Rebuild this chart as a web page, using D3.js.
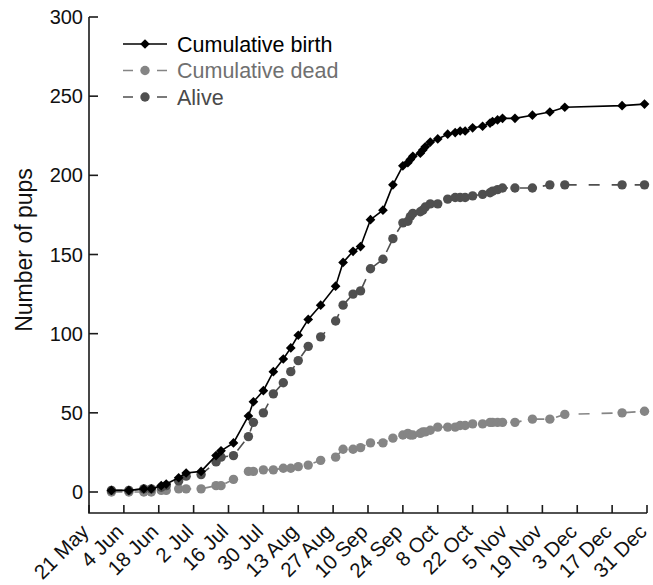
<!DOCTYPE html>
<html>
<head>
<meta charset="utf-8">
<style>
    body { margin: 0; background: white; }
    text { font-family: "Liberation Sans", Arial, sans-serif; }
    .axis_line { stroke: #1a1a1a; stroke-width: 1.6; fill: none; }
</style>
</head>
<body>
<div id="plateau"></div>
<script src="https://cdn.jsdelivr.net/npm/d3@7"></script>
<script>

//////////////////// data ////////////////////
let dates = ['2021-05-30','2021-06-06','2021-06-12','2021-06-15','2021-06-19','2021-06-21','2021-06-26','2021-06-29',
    '2021-07-05','2021-07-11','2021-07-13','2021-07-18','2021-07-24','2021-07-26','2021-07-30','2021-08-03',
    '2021-08-07','2021-08-10','2021-08-13','2021-08-17','2021-08-22','2021-08-28','2021-08-31','2021-09-04',
    '2021-09-07','2021-09-11','2021-09-16','2021-09-20','2021-09-24','2021-09-26','2021-09-27','2021-09-28',
    '2021-10-01','2021-10-02','2021-10-03','2021-10-05','2021-10-08','2021-10-12','2021-10-15','2021-10-17',
    '2021-10-19','2021-10-22','2021-10-26','2021-10-29','2021-10-30','2021-11-01','2021-11-03','2021-11-08',
    '2021-11-15','2021-11-22','2021-11-28','2021-12-21','2021-12-30'];
let birth = [1,1,2,2,4,5,9,12, 13,23,26,31,48,57,64,76, 84,91,99,109,118,130,145,152,
    155,172,178,194,206,208,210,212, 214,216,218,221,223,226,227,228, 228,230,231,233,234,235,236,236,
    238,240,243,244,245];
let dead = [0,0,0,0,1,1,2,2, 2,4,4,8,13,13,14,14, 15,15,16,17,20,22,27,27,
    28,31,31,34,36,37,36,36, 37,38,38,39,41,41,41,42, 42,43,43,44,44,44,44,44,
    46,46,49,50,51];
let alive = [1,1,2,2,3,4,7,10, 11,19,22,23,35,44,50,62, 69,76,83,92,98,108,118,125,
    127,141,147,160,170,171,174,176, 177,178,180,182,182,185,186,186, 186,187,188,189,190,191,192,192,
    192,194,194,194,194];
let y_ticks = [0, 50, 100, 150, 200, 250, 300];
let x_tick_start = '2021-05-21';
let x_tick_end = '2021-12-31';
let legend_labels = ['Cumulative birth', 'Cumulative dead', 'Alive'];

//////////////////// layout ////////////////////
let W = 653, H = 585;
let X0 = 89, X1 = 647;
let Y_TOP = 17, Y_ZERO = 492, Y_AXIS = 513;

let parse = d3.utcParse('%Y-%m-%d');
let x = d3.scaleUtc().domain([parse(x_tick_start), parse(x_tick_end)]).range([X0, X1]);
let y = d3.scaleLinear().domain([0, 300]).range([Y_ZERO, Y_TOP]);

let svg = d3.select('#plateau').append('svg')
    .attr('width', W)
    .attr('height', H);

// axes
svg.append('path').classed('axis_line', true)
    .attr('d', `M ${X0} ${Y_TOP} L ${X0} ${Y_AXIS} L ${X1} ${Y_AXIS}`);

let x_ticks = d3.utcDay.range(parse(x_tick_start), d3.utcDay.offset(parse(x_tick_end), 1), 14);
let fmt = d3.utcFormat('%-d %b');
x_ticks.forEach((t) => {
    let px = x(t);
    svg.append('line').classed('axis_line', true)
        .attr('x1', px).attr('x2', px).attr('y1', Y_AXIS).attr('y2', Y_AXIS - 8);
    svg.append('text')
        .attr('transform', `translate(${px + 1}, ${Y_AXIS + 20}) rotate(-45)`)
        .attr('text-anchor', 'end')
        .attr('font-size', 20.5)
        .attr('fill', '#111')
        .text(fmt(t));
});

y_ticks.forEach((v) => {
    svg.append('line').classed('axis_line', true)
        .attr('x1', X0).attr('x2', X0 + 9).attr('y1', y(v)).attr('y2', y(v));
    svg.append('text')
        .attr('x', X0 - 6)
        .attr('y', y(v))
        .attr('dy', '0.35em')
        .attr('text-anchor', 'end')
        .attr('font-size', 20)
        .attr('fill', '#111')
        .text(v);
});

svg.append('text')
    .attr('transform', `translate(32, 250) rotate(-90)`)
    .attr('text-anchor', 'middle')
    .attr('font-size', 23)
    .attr('fill', '#111')
    .text('Number of pups');

//////////////////// series ////////////////////
let pts = dates.map((d, i) => ({ date: parse(d), birth: birth[i], dead: dead[i], alive: alive[i] }));
let diamond = d3.symbol().type(d3.symbolDiamond2).size(60);

function drawSeries(key, color, dashed, marker) {
    let line = d3.line().x((d) => x(d.date)).y((d) => y(d[key]));
    svg.append('path')
        .datum(pts)
        .attr('d', line)
        .attr('fill', 'none')
        .attr('stroke', color)
        .attr('stroke-width', 1.6)
        .attr('stroke-dasharray', dashed ? '11,12' : null);
    let g = svg.append('g');
    pts.forEach((d) => {
        if (marker == 'diamond') {
            g.append('path')
                .attr('transform', `translate(${x(d.date)}, ${y(d[key])})`)
                .attr('d', diamond)
                .attr('fill', color);
        } else {
            g.append('circle')
                .attr('cx', x(d.date))
                .attr('cy', y(d[key]))
                .attr('r', 4.7)
                .attr('fill', color);
        }
    });
}

let colors = ['#000000', '#858585', '#4f4f4f'];
drawSeries('dead', colors[1], true, 'circle');
drawSeries('alive', colors[2], true, 'circle');
drawSeries('birth', colors[0], false, 'diamond');

//////////////////// legend ////////////////////
let text_colors = ['#000000', '#707070', '#4a4a4a'];
legend_labels.forEach((lab, i) => {
    let ly = 44 + i * 26.5;
    let g = svg.append('g');
    g.append('line')
        .attr('x1', 123).attr('x2', 167).attr('y1', ly).attr('y2', ly)
        .attr('stroke', colors[i])
        .attr('stroke-width', 1.6)
        .attr('stroke-dasharray', i == 0 ? null : '10,24');
    if (i == 0) {
        g.append('path').attr('transform', `translate(145, ${ly})`).attr('d', diamond).attr('fill', colors[i]);
    } else {
        g.append('circle').attr('cx', 145).attr('cy', ly).attr('r', 4.7).attr('fill', colors[i]);
    }
    g.append('text')
        .attr('x', 177)
        .attr('y', ly)
        .attr('dy', '0.35em')
        .attr('font-size', 21.5)
        .attr('fill', text_colors[i])
        .text(lab);
});

</script>
</body>
</html>
